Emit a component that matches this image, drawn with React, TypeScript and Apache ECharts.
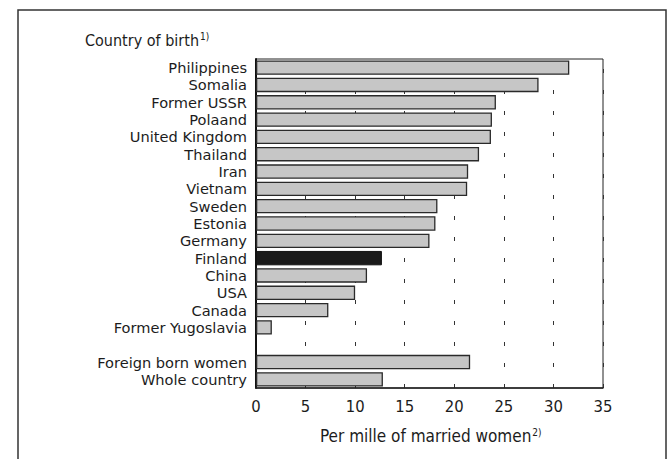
import React, { useEffect, useRef } from "react";
import * as echarts from "echarts";

const categories = [
  "Philippines",
  "Somalia",
  "Former USSR",
  "Polaand",
  "United Kingdom",
  "Thailand",
  "Iran",
  "Vietnam",
  "Sweden",
  "Estonia",
  "Germany",
  "Finland",
  "China",
  "USA",
  "Canada",
  "Former Yugoslavia",
  "",
  "Foreign born women",
  "Whole country",
];

const values: (number | null)[] = [
  31.6, 28.5, 24.2, 23.8, 23.7, 22.5, 21.4, 21.3, 18.3, 18.1, 17.5, 12.7, 11.2,
  10.0, 7.3, 1.6, null, 21.6, 12.8,
];

const highlighted = "Finland";
const xTicks = [0, 5, 10, 15, 20, 25, 30, 35];

const FONT = "'Liberation Sans Narrow', 'DejaVu Sans Condensed', 'Arial Narrow', sans-serif";
const LABEL_FONT = "'DejaVu Sans', sans-serif";
const INK = "#1c1c1c";

export default function App() {
  const ref = useRef<HTMLDivElement>(null);
  useEffect(() => {
    if (!ref.current) return;
    const chart = echarts.init(ref.current, null, { renderer: "svg" });
    chart.setOption({
      animation: false,
      backgroundColor: "#ffffff",
      textStyle: { fontFamily: FONT, color: INK },
      title: {
        text: "{a|Country of birth}{s|1)}",
        left: 80,
        top: 26,
        textStyle: {
          fontWeight: "normal",
          rich: {
            a: { fontFamily: FONT, fontSize: 16, fontWeight: "normal", color: INK },
            s: { fontFamily: FONT, fontSize: 10, fontWeight: "normal", color: INK, padding: [0, 0, 8, 1] },
          },
        },
      },
      graphic: [
        {
          type: "rect",
          shape: { x: 18, y: 10, width: 648, height: 470 },
          style: { fill: "none", stroke: "#333", lineWidth: 1.5 },
          silent: true,
        },
        {
          type: "text",
          x: 320,
          y: 427,
          style: {
            text: "{a|Per mille of married women}{s|2)}",
            fill: INK,
            rich: {
              a: { fontFamily: FONT, fontSize: 17, fill: INK },
              s: { fontFamily: FONT, fontSize: 10, fill: INK, padding: [0, 0, 8, 1] },
            },
          },
        },
      ],
      grid: {
        left: 256,
        top: 59,
        width: 347,
        height: 329,
        show: true,
        borderColor: "#222",
        borderWidth: 1,
        backgroundColor: "transparent",
      },
      xAxis: {
        type: "value",
        min: 0,
        max: 35,
        interval: 5,
        axisLine: { show: true, onZero: false, lineStyle: { color: "#222", width: 1.5 } },
        axisTick: { show: false },
        axisLabel: {
          fontFamily: FONT,
          fontSize: 16.5,
          color: INK,
          margin: 10,
          formatter: (v: number) => (xTicks.includes(v) ? String(v) : ""),
        },
        splitLine: {
          show: true,
          lineStyle: { color: "#333", width: 1, type: [4, 17], dashOffset: 10.6 },
        },
      },
      yAxis: {
        type: "category",
        inverse: true,
        data: categories,
        axisLine: { show: true, lineStyle: { color: "#111", width: 2 } },
        axisTick: { show: false },
        axisLabel: {
          interval: 0,
          fontFamily: LABEL_FONT,
          fontSize: 14.6,
          color: INK,
          margin: 9,
          lineHeight: 16,
        },
      },
      series: [
        {
          type: "bar",
          data: values.map((v, i) => ({
            value: v === null ? "-" : v,
            itemStyle:
              categories[i] === highlighted
                ? { color: "#1a1a1a", borderColor: "#111", borderWidth: 1 }
                : { color: "#c6c6c6", borderColor: "#2a2a2a", borderWidth: 1.3 },
          })),
          barCategoryGap: "17%",
        },
      ],
    });
    return () => chart.dispose();
  }, []);
  return (
    <div
      ref={ref}
      style={{ position: "fixed", left: 0, top: 0, width: 668, height: 459 }}
    />
  );
}
